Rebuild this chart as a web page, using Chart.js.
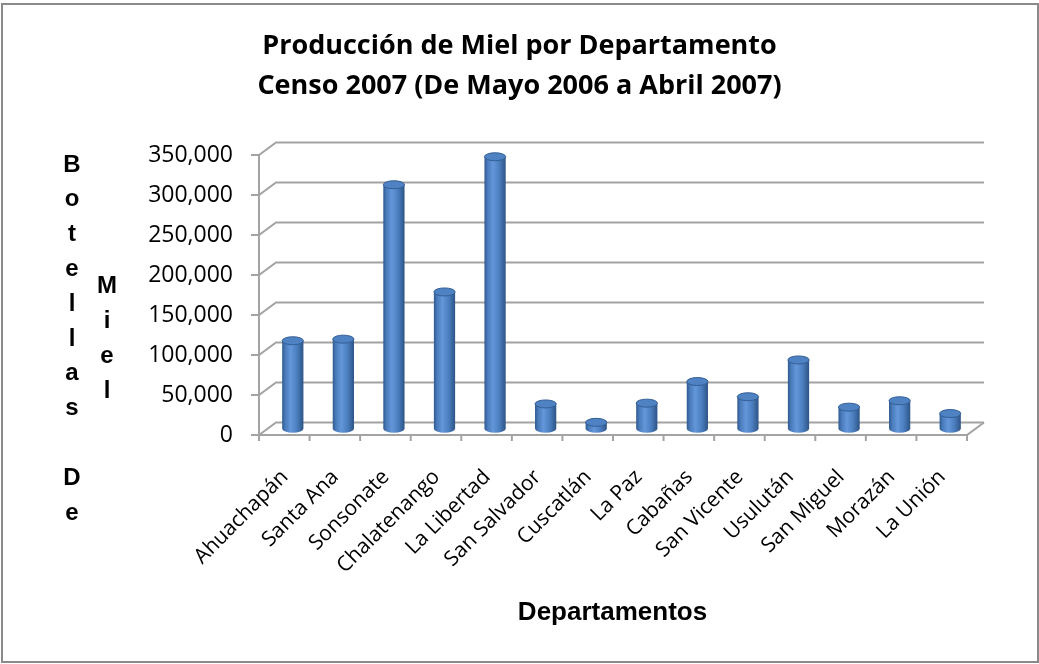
<!DOCTYPE html>
<html>
<head>
<meta charset="utf-8">
<script src="https://cdn.jsdelivr.net/npm/chart.js@4.4.0/dist/chart.umd.min.js"></script>
<style>
  html, body { margin: 0; padding: 0; background: #fff; }
</style>
</head>
<body>
<canvas id="mielChart" width="1039" height="664"></canvas>
<script>
const departamentos = ['Ahuachapán', 'Santa Ana', 'Sonsonate', 'Chalatenango', 'La Libertad', 'San Salvador',
    'Cuscatlán', 'La Paz', 'Cabañas', 'San Vicente', 'Usulután', 'San Miguel', 'Morazán', 'La Unión'];
const botellas = [110000, 112000, 305000, 171000, 340000, 31000, 8000, 32000, 59000, 40000, 86000, 27000, 35000, 19000];
const yTicks = [0, 50000, 100000, 150000, 200000, 250000, 300000, 350000];
const titleLines = ['Producción de Miel por Departamento', 'Censo 2007 (De Mayo 2006 a Abril 2007)'];
const yTitleCols = ['Botellas De', 'Miel'];
const xTitle = 'Departamentos';

// depth of the fake 3d box (front -> back)
const DX = 17, DY = -12.5;

function barGradient(ctx) {
    const chart = ctx.chart;
    if (!chart.chartArea || ctx.dataIndex === undefined) return '#4f81bd';
    const xs = chart.scales.x;
    const cw = (chart.chartArea.right - chart.chartArea.left) / departamentos.length;
    const cx = xs.getPixelForValue(ctx.dataIndex);
    const w = cw * 0.42;
    const g = chart.ctx.createLinearGradient(cx - w / 2, 0, cx + w / 2, 0);
    g.addColorStop(0, '#2f5a8e');
    g.addColorStop(0.15, '#4a7bbb');
    g.addColorStop(0.4, '#6397da');
    g.addColorStop(0.7, '#4b7ebe');
    g.addColorStop(1, '#2d5486');
    return g;
}

const framePlugin = {
    id: 'frame3d',
    beforeDraw(chart) {
        const ctx = chart.ctx;
        ctx.save();
        ctx.fillStyle = '#fff';
        ctx.fillRect(0, 0, chart.width, chart.height);
        ctx.strokeStyle = '#8a8a8a';
        ctx.lineWidth = 2;
        ctx.strokeRect(2, 4, 1036, 658);
        ctx.restore();
    },
    beforeDatasetsDraw(chart) {
        const ctx = chart.ctx;
        const a = chart.chartArea;
        const ys = chart.scales.y;
        const hx = DX / 2, hy = DY / 2;
        ctx.save();
        ctx.strokeStyle = '#a3a3a3';
        ctx.lineWidth = 2;
        yTicks.forEach(v => {
            const py = ys.getPixelForValue(v);
            ctx.beginPath();
            ctx.moveTo(a.left - hx - 8, py - hy);
            ctx.lineTo(a.left - hx, py - hy);
            ctx.lineTo(a.left + hx, py + hy);
            ctx.lineTo(a.right + hx, py + hy);
            ctx.stroke();
        });
        const y0 = ys.getPixelForValue(0);
        const yTop = ys.getPixelForValue(yTicks[yTicks.length - 1]);
        ctx.beginPath();
        ctx.moveTo(a.left - hx, yTop - hy);
        ctx.lineTo(a.left - hx, y0 - hy);
        ctx.lineTo(a.right - hx, y0 - hy);
        ctx.lineTo(a.right + hx, y0 + hy);
        ctx.stroke();
        const cw = (a.right - a.left) / departamentos.length;
        ctx.beginPath();
        for (let i = 0; i <= departamentos.length; i++) {
            const px = a.left + i * cw - hx;
            ctx.moveTo(px, y0 - hy);
            ctx.lineTo(px, y0 - hy + 6);
        }
        ctx.stroke();
        // rounded bottoms of the cylinders
        chart.getDatasetMeta(0).data.forEach(bar => {
            const p = bar.getProps(['x', 'base', 'width'], true);
            ctx.fillStyle = bar.options.backgroundColor;
            ctx.beginPath();
            ctx.ellipse(p.x, p.base, p.width / 2, 4, 0, 0, Math.PI * 2);
            ctx.fill();
        });
        ctx.restore();
    },
    afterDatasetsDraw(chart) {
        const ctx = chart.ctx;
        ctx.save();
        chart.getDatasetMeta(0).data.forEach(bar => {
            const p = bar.getProps(['x', 'y', 'width'], true);
            ctx.beginPath();
            ctx.ellipse(p.x, p.y, p.width / 2, 4, 0, 0, Math.PI * 2);
            ctx.fillStyle = '#4f82c2';
            ctx.fill();
            ctx.strokeStyle = '#335f96';
            ctx.lineWidth = 1;
            ctx.stroke();
        });
        ctx.restore();
    },
    afterDraw(chart) {
        const ctx = chart.ctx;
        ctx.save();
        ctx.fillStyle = '#000';
        ctx.font = 'bold 24px "Liberation Sans", Arial, sans-serif';
        ctx.textAlign = 'center';
        ctx.textBaseline = 'middle';
        const step = 34.8, cy = 339;
        const colX = [72, 107];
        yTitleCols.forEach((word, c) => {
            const chars = word.split('');
            const y0 = cy - (chars.length - 1) * step / 2;
            chars.forEach((ch, k) => ctx.fillText(ch, colX[c], y0 + k * step));
        });
        ctx.font = 'bold 26px "Liberation Sans", Arial, sans-serif';
        ctx.fillText(xTitle, 612.5, 613);
        ctx.restore();
    }
};

new Chart(document.getElementById('mielChart'), {
    type: 'bar',
    data: {
        labels: departamentos,
        datasets: [{
            label: 'Botellas de Miel',
            data: botellas,
            backgroundColor: barGradient,
            borderWidth: 0,
            barPercentage: 0.42,
            categoryPercentage: 1,
        }],
    },
    options: {
        responsive: false,
        devicePixelRatio: 1,
        animation: false,
        layout: { padding: { top: 26, right: 0, bottom: 0, left: 0 } },
        plugins: {
            legend: { display: false },
            tooltip: { enabled: false },
            title: {
                display: true,
                text: titleLines,
                color: '#000',
                font: { family: '"Open Sans", sans-serif', size: 27, weight: 'bold', lineHeight: 40 / 27 },
                padding: { top: 0, bottom: 42.75 },
            },
        },
        scales: {
            x: {
                grid: { display: false, drawTicks: false },
                border: { display: false },
                ticks: {
                    color: '#000',
                    font: { family: '"Open Sans", sans-serif', size: 21 },
                    minRotation: 45, maxRotation: 45,
                    autoSkip: false,
                    padding: 36,
                    labelOffset: -8,
                },
                afterFit: s => { s.height = 664 - 428.75; },
            },
            y: {
                min: 0, max: 350000,
                grid: { display: false, drawTicks: false },
                border: { display: false },
                ticks: {
                    stepSize: 50000,
                    color: '#000',
                    font: { family: '"Open Sans", sans-serif', size: 23 },
                    padding: 34.5,
                    labelOffset: 7,
                    callback: v => v.toLocaleString('en-US'),
                },
                afterFit: s => { s.width = 267.5; },
            },
            // empty right margin so the title stays centred on the whole canvas
            yRight: {
                position: 'right',
                grid: { display: false, drawTicks: false },
                border: { display: false },
                ticks: { display: false },
                afterFit: s => { s.width = 63.5; },
            },
        },
    },
    plugins: [framePlugin],
});
</script>
</body>
</html>
